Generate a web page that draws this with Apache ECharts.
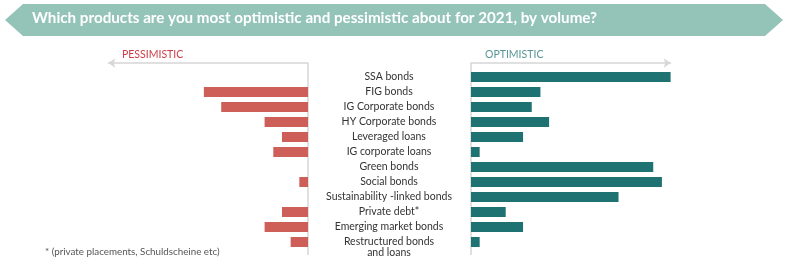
<!DOCTYPE html>
<html>
<head>
<meta charset="utf-8">
<script src="https://cdn.jsdelivr.net/npm/echarts@6/dist/echarts.min.js"></script>
<style>html,body{margin:0;padding:0;background:#fff}#c{width:800px;height:267px}</style>
</head>
<body>
<div id="c"></div>
<script>
const titleText = 'Which products are you most optimistic and pessimistic about for 2021, by volume?';
const footnote = '* (private placements, Schuldscheine etc)';
const categories = ['SSA bonds','FIG bonds','IG Corporate bonds','HY Corporate bonds','Leveraged loans','IG corporate loans','Green bonds','Social bonds','Sustainability -linked bonds','Private debt*','Emerging market bonds','Restructured bonds\nand loans'];
const pessimistic = [0,12,10,5,3,4,0,1,0,3,5,2];
const optimistic = [23,8,7,9,6,1,21,22,17,4,6,1];
const axisMax = 23;

const chart = echarts.init(document.getElementById('c'), null, {renderer:'canvas'});
const FONT = 'Lato';
const lineCol = '#d6d6d6';
chart.setOption({
  animation:false,
  textStyle:{fontFamily:FONT},
  title:[
    {text:'PESSIMISTIC', left:117, top:44, textStyle:{fontSize:10.5, fontWeight:'normal', color:'#cc3d47', fontFamily:FONT}},
    {text:'OPTIMISTIC', left:480, top:44, textStyle:{fontSize:10.5, fontWeight:'normal', color:'#5a9595', fontFamily:FONT}},
    {text:footnote, left:40, top:242, textStyle:{fontSize:9.8, fontWeight:'normal', color:'#555', fontFamily:FONT}}
  ],
  graphic:[
    {type:'polygon', z:-1, shape:{points:[[5,20],[23,4],[765,4],[783,20],[765,36],[23,36]]}, style:{fill:'#94c4b8'}},
    {type:'text', left:32, top:11, style:{text:titleText, fill:'#fff', font:'bold 15.2px Lato'}},
    {type:'line', shape:{x1:308,y1:63,x2:308,y2:255}, style:{stroke:lineCol, lineWidth:1.5}},
    {type:'line', shape:{x1:471,y1:63,x2:471,y2:255}, style:{stroke:lineCol, lineWidth:1.5}}
  ],
  grid:[
    {left:108.4, width:199.6, top:69.5, height:180},
    {left:471, width:199.6, top:69.5, height:180}
  ],
  xAxis:[
    {gridIndex:0, type:'value', min:0, max:axisMax, inverse:true, position:'top', offset:6.5,
     axisLine:{show:true, lineStyle:{color:lineCol, width:1.5}, symbol:['arrow','none'], symbolSize:[7,7]},
     axisTick:{show:false}, axisLabel:{show:false}, splitLine:{show:false}},
    {gridIndex:1, type:'value', min:0, max:axisMax, position:'top', offset:6.5,
     axisLine:{show:true, lineStyle:{color:lineCol, width:1.5}, symbol:['none','arrow'], symbolSize:[7,7]},
     axisTick:{show:false}, axisLabel:{show:false}, splitLine:{show:false}}
  ],
  yAxis:[
    {gridIndex:0, type:'category', data:categories, inverse:true, show:false},
    {gridIndex:1, type:'category', data:categories, inverse:true,
     axisLine:{show:false}, axisTick:{show:false},
     axisLabel:{interval:0, margin:82, align:'center', fontSize:10.5, lineHeight:10.5, color:'#333', fontFamily:FONT,
       padding:[2,0,0,0],
       formatter:v => v.indexOf('\n') >= 0 ? '\n' + v : v}}
  ],
  series:[
    {type:'bar', xAxisIndex:0, yAxisIndex:0, data:pessimistic, barWidth:10, itemStyle:{color:'#cd5f58'}},
    {type:'bar', xAxisIndex:1, yAxisIndex:1, data:optimistic, barWidth:10, itemStyle:{color:'#1e7271'}}
  ]
});
</script>
</body>
</html>
